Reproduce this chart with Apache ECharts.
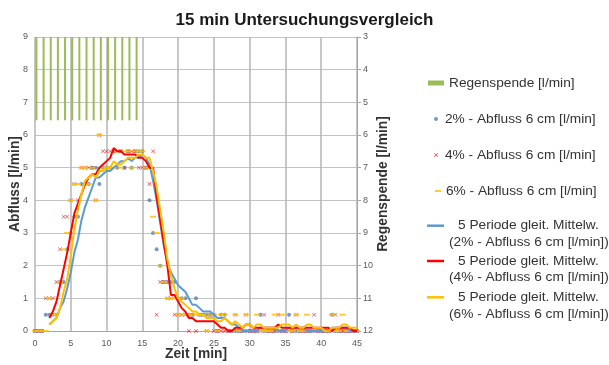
<!DOCTYPE html>
<html>
<head>
<meta charset="utf-8">
<title>15 min Untersuchungsvergleich</title>
<script src="https://cdn.jsdelivr.net/npm/echarts@6/dist/echarts.min.js"></script>
<style>
  html, body { margin: 0; padding: 0; background: #ffffff; }
  #chart { width: 609px; height: 365px; }
</style>
</head>
<body>
<div id="chart"></div>
<script>
// Messzeitpunkte [min], alle 30 s
const zeit = [
  0, 0.5, 1, 1.5, 2, 2.5, 3, 3.5, 4, 4.5,
  5, 5.5, 6, 6.5, 7, 7.5, 8, 8.5, 9, 9.5,
  10, 10.5, 11, 11.5, 12, 12.5, 13, 13.5, 14, 14.5,
  15, 15.5, 16, 16.5, 17, 17.5, 18, 18.5, 19, 19.5,
  20, 20.5, 21, 21.5, 22, 22.5, 23, 23.5, 24, 24.5,
  25, 25.5, 26, 26.5, 27, 27.5, 28, 28.5, 29, 29.5,
  30, 30.5, 31, 31.5, 32, 32.5, 33, 33.5, 34, 34.5,
  35, 35.5, 36, 36.5, 37, 37.5, 38, 38.5, 39, 39.5,
  40, 40.5, 41, 41.5, 42, 42.5, 43, 43.5, 44, 44.5,
  45
];

// Abfluss [l/min] bei 2 %, 4 % und 6 % Gefaelle
const abfluss2 = [
  0, 0, 0, 0.5, 0.5, 0.5, 0.5, 1.5, 1.5, 2.5,
  3, 3.5, 3.5, 4.5, 4.5, 4.5, 5, 5, 4.5, 5,
  5, 5, 5.5, 5, 5.5, 5, 5.5, 5, 5.5, 5.5,
  5.5, 5, 4, 3, 2.5, 2, 1.5, 1.5, 1.5, 1.5,
  1, 1, 1, 0.5, 0.5, 1, 0.5, 0.5, 0.5, 0.5,
  0.5, 0, 0.5, 0.5, 0, 0, 0, 0, 0, 0,
  0, 0, 0, 0.5, 0, 0, 0, 0, 0, 0,
  0, 0.5, 0, 0, 0, 0, 0, 0, 0, 0,
  0, 0, 0, 0.5, 0, 0, 0, 0, 0, 0,
  0
];
const abfluss4 = [
  0, 0, 0, 1, 1, 1, 1.5, 2.5, 3.5, 3.5,
  4, 4.5, 4, 5, 5, 5, 5, 4, 6, 5.5,
  5.5, 5.5, 5.5, 5.5, 5.5, 5, 5.5, 5.5, 5.5, 5,
  5, 5, 4.5, 5.5, 0.5, 1.5, 1.5, 1, 1, 0.5,
  0.5, 0.5, 0.5, 0, 0.5, 0, 0.5, 0.5, 0, 0.5,
  0, 0, 0, 0, 0, 0, 0.5, 0, 0, 0.5,
  0, 0, 0, 0, 0.5, 0, 0, 0, 0.5, 0,
  0, 0, 0, 0.5, 0, 0, 0, 0, 0.5, 0,
  0, 0, 0, 0, 0.5, 0, 0, 0, 0, 0,
  0
];
const abfluss6 = [
  0, 0, 0, 0, 1, 0.5, 0.5, 1.5, 2.5, 3,
  4, 4.5, 4.5, 5, 5, 4.5, 5, 4, 6, 5,
  5, 5, 5, 5.5, 5, 5.5, 5.5, 5, 5.5, 5.5,
  5.5, 5, 5, 3.5, 3, 2, 1.5, 1, 1, 1,
  0.5, 1, 0.5, 0.5, 0.5, 0.5, 0.5, 0.5, 0, 0.5,
  0.5, 0, 0.5, 0.5, 0, 0, 0.5, 0, 0, 0.5,
  0, 0, 0.5, 0, 0, 0, 0, 0.5, 0, 0.5,
  0, 0, 0, 0.5, 0, 0, 0.5, 0, 0, 0,
  0, 0, 0, 0.5, 0, 0, 0.5, 0, 0, 0,
  0
];

// Gleitender Mittelwert ueber 5 Perioden, ab t = 2 min
const mittelZeit = zeit.slice(4);
const mittel2 = [
  0.2, 0.3, 0.4, 0.7, 0.9, 1.3,
  1.8, 2.4, 2.8, 3.4, 3.8, 4.1, 4.4, 4.7, 4.7, 4.8,
  4.9, 4.9, 5.0, 5.1, 5.2, 5.2, 5.3, 5.2, 5.3, 5.3,
  5.4, 5.3, 5.1, 4.6, 4.0, 3.3, 2.6, 2.1, 1.8, 1.6,
  1.4, 1.3, 1.2, 1.0, 0.8, 0.8, 0.7, 0.6, 0.6, 0.6,
  0.5, 0.4, 0.4, 0.4, 0.3, 0.2, 0.2, 0.1, 0, 0,
  0, 0, 0, 0.1, 0.1, 0.1, 0.1, 0.1, 0, 0,
  0, 0.1, 0.1, 0.1, 0.1, 0.1, 0, 0, 0, 0,
  0, 0, 0, 0.1, 0.1, 0.1, 0.1, 0.1, 0, 0,
  0
];
const mittel4 = [
  0.4, 0.6, 0.9, 1.4, 1.9, 2.4,
  3.0, 3.6, 3.9, 4.2, 4.5, 4.7, 4.8, 4.8, 5.0, 5.1,
  5.2, 5.3, 5.6, 5.5, 5.5, 5.4, 5.4, 5.4, 5.4, 5.3,
  5.3, 5.2, 5.0, 5.0, 4.1, 3.4, 2.7, 2.0, 1.1, 1.1,
  0.9, 0.7, 0.6, 0.4, 0.4, 0.3, 0.3, 0.3, 0.3, 0.3,
  0.3, 0.2, 0.1, 0.1, 0, 0, 0.1, 0.1, 0.1, 0.2,
  0.2, 0.1, 0.1, 0.1, 0.1, 0.1, 0.1, 0.1, 0.2, 0.1,
  0.1, 0.1, 0.1, 0.1, 0.1, 0.1, 0.1, 0.1, 0.1, 0.1,
  0.1, 0.1, 0.1, 0, 0.1, 0.1, 0.1, 0.1, 0.1, 0,
  0
];
const mittel6 = [
  0.2, 0.3, 0.4, 0.7, 1.2, 1.6,
  2.3, 3.1, 3.7, 4.2, 4.6, 4.7, 4.8, 4.7, 4.9, 4.9,
  5.0, 5.0, 5.2, 5.1, 5.1, 5.2, 5.3, 5.3, 5.3, 5.4,
  5.4, 5.3, 5.3, 4.9, 4.4, 3.7, 3.0, 2.2, 1.7, 1.3,
  1.0, 0.9, 0.8, 0.7, 0.6, 0.6, 0.5, 0.5, 0.4, 0.4,
  0.4, 0.3, 0.3, 0.4, 0.3, 0.2, 0.3, 0.2, 0.1, 0.2,
  0.2, 0.1, 0.2, 0.2, 0.1, 0.1, 0.1, 0.1, 0.1, 0.2,
  0.2, 0.2, 0.1, 0.2, 0.1, 0.1, 0.2, 0.2, 0.1, 0.1,
  0.1, 0, 0, 0.1, 0.1, 0.1, 0.2, 0.2, 0.1, 0.1,
  0.1
];

// Regenspende [l/min], je Minute ein Balken
const regenZeit = [0.2, 1.2, 2.2, 3.2, 4.2, 5.2, 6.2, 7.2, 8.2, 9.2, 10.2, 11.2, 12.2, 13.2, 14.2];
const regenspende = [5.55, 5.55, 5.55, 5.55, 5.55, 5.55, 5.55, 5.55, 5.55, 5.55, 5.55, 5.55, 5.55, 5.55, 5.55];

// Achsenbereiche
const zeitTicks = [0, 5, 10, 15, 20, 25, 30, 35, 40, 45];
const abflussTicks = [0, 1, 2, 3, 4, 5, 6, 7, 8, 9];
const regenTicks = [3, 4, 5, 6, 7, 8, 9, 10, 11, 12];

const FONT = '"Liberation Sans", Arial, sans-serif';
const TEXT = '#333333';
const LABEL = '#595959';

const N_REGEN = 'Regenspende [l/min]';
const N_2 = '2% - Abfluss 6 cm [l/min]';
const N_4 = '4% - Abfluss 6 cm [l/min]';
const N_6 = '6% - Abfluss 6 cm [l/min]';
const N_M2 = '5 Periode gleit. Mittelw. (2% - Abfluss 6 cm [l/min])';
const N_M4 = '5 Periode gleit. Mittelw. (4% - Abfluss 6 cm [l/min])';
const N_M6 = '5 Periode gleit. Mittelw. (6% - Abfluss 6 cm [l/min])';

const C_GREEN = '#9BBB59';
const C_BLUE_PT = '#4F81BD';
const C_BLUE = '#5B9BD5';
const C_RED = '#FF0000';
const C_YELLOW = '#FFC000';

const X_MARK = 'path://M0,1L1,0L5,4L9,0L10,1L6,5L10,9L9,10L5,6L1,10L0,9L4,5Z';

const pairs = (xs, ys) => xs.map((x, i) => [x, ys[i]]);

const singleText = { fontFamily: FONT, fontSize: 13.7, color: TEXT, lineHeight: 16 };
function simpleLegend(name, icon, left, top, w, h) {
  return {
    orient: 'vertical', left: left, top: top, padding: 0,
    itemWidth: w, itemHeight: h, selectedMode: false,
    data: [{ name: name, icon: icon }],
    textStyle: singleText
  };
}
function meanLegend(name, top) {
  return {
    orient: 'vertical', left: 427, top: top, padding: 0,
    itemWidth: 17, itemHeight: 2.5, selectedMode: false,
    data: [{ name: name, icon: 'rect' }],
    formatter: function (n) {
      const k = n.indexOf(' (');
      return '{a|' + n.slice(0, k) + '}\n{b|' + n.slice(k + 1) + '}';
    },
    textStyle: {
      fontFamily: FONT, fontSize: 13.7, color: TEXT, lineHeight: 16.6,
      padding: [16.6, 0, 0, 0],
      rich: {
        a: { fontFamily: FONT, fontSize: 13.7, color: TEXT, lineHeight: 16.6, padding: [0, 0, 0, 9] },
        b: { fontFamily: FONT, fontSize: 13.7, color: TEXT, lineHeight: 16.6 }
      }
    }
  };
}

const nameStyle = { fontFamily: FONT, fontSize: 13.8, fontWeight: 'bold', color: TEXT };

const chart = echarts.init(document.getElementById('chart'), null, { renderer: 'canvas' });

chart.setOption({
  animation: false,
  backgroundColor: '#ffffff',
  title: {
    text: '15 min Untersuchungsvergleich',
    left: 'center', top: 7,
    textStyle: { fontFamily: FONT, fontSize: 17, fontWeight: 'bold', color: '#1a1a1a' }
  },
  legend: [
    simpleLegend(N_REGEN, 'rect', 428, 75, 16, 5),
    simpleLegend(N_2, 'circle', 434, 111, 8, 4),
    simpleLegend(N_4, X_MARK, 434, 147, 8, 4),
    simpleLegend(N_6, 'rect', 435, 183, 6, 2),
    meanLegend(N_M2, 200.8),
    meanLegend(N_M4, 236.1),
    meanLegend(N_M6, 272.4)
  ],
  grid: { left: 35, right: 252, top: 37, bottom: 34, containLabel: false, outerBoundsMode: 'none' },
  xAxis: {
    type: 'value', min: zeitTicks[0], max: zeitTicks[zeitTicks.length - 1], interval: zeitTicks[1] - zeitTicks[0],
    name: 'Zeit [min]', nameLocation: 'middle', nameGap: 16, nameMoveOverlap: false,
    nameTextStyle: nameStyle,
    axisLine: { show: true, lineStyle: { color: '#a6a6a6', width: 1 } },
    axisTick: { show: false },
    axisLabel: { fontFamily: FONT, fontSize: 9, color: LABEL, margin: 8 },
    splitLine: { show: true, lineStyle: { color: '#b4b4b4', width: 1.5 } }
  },
  yAxis: [
    {
      type: 'value', min: abflussTicks[0], max: abflussTicks[abflussTicks.length - 1], interval: 1,
      name: 'Abfluss [l/min]', nameLocation: 'middle', nameRotate: 90, nameGap: 13, nameMoveOverlap: false,
      nameTextStyle: nameStyle,
      axisLine: { show: false },
      axisTick: { show: false },
      axisLabel: { fontFamily: FONT, fontSize: 9, color: LABEL, margin: 7 },
      splitLine: { show: true, lineStyle: { color: '#c4c4c4', width: 1 } }
    },
    {
      type: 'value', position: 'right', inverse: true,
      min: regenTicks[0], max: regenTicks[regenTicks.length - 1], interval: 1, startValue: regenTicks[0],
      name: 'Regenspende [l/min]', nameLocation: 'middle', nameRotate: 90, nameGap: 19, nameMoveOverlap: false,
      nameTextStyle: nameStyle,
      axisLine: { show: true, lineStyle: { color: '#a6a6a6', width: 1 } },
      axisTick: { show: true, length: 4, lineStyle: { color: '#a6a6a6' } },
      axisLabel: { fontFamily: FONT, fontSize: 9, color: LABEL, margin: 6 },
      splitLine: { show: false }
    }
  ],
  series: [
    {
      name: N_REGEN, type: 'bar', xAxisIndex: 0, yAxisIndex: 1,
      barWidth: 2, clip: true,
      itemStyle: { color: C_GREEN },
      data: pairs(regenZeit, regenspende)
    },
    {
      name: N_2, type: 'scatter', yAxisIndex: 0,
      symbol: 'circle', symbolSize: 4,
      itemStyle: { color: C_BLUE_PT },
      data: pairs(zeit, abfluss2)
    },
    {
      name: N_4, type: 'scatter', yAxisIndex: 0,
      symbol: X_MARK, symbolSize: 4,
      itemStyle: { color: C_RED },
      data: pairs(zeit, abfluss4)
    },
    {
      name: N_6, type: 'scatter', yAxisIndex: 0,
      symbol: 'rect', symbolSize: [6, 2],
      itemStyle: { color: C_YELLOW },
      data: pairs(zeit, abfluss6)
    },
    {
      name: N_M2, type: 'line', yAxisIndex: 0,
      symbol: 'none', showSymbol: false,
      lineStyle: { color: C_BLUE, width: 2 }, itemStyle: { color: C_BLUE },
      data: pairs(mittelZeit, mittel2)
    },
    {
      name: N_M4, type: 'line', yAxisIndex: 0,
      symbol: 'none', showSymbol: false,
      lineStyle: { color: C_RED, width: 2 }, itemStyle: { color: C_RED },
      data: pairs(mittelZeit, mittel4)
    },
    {
      name: N_M6, type: 'line', yAxisIndex: 0,
      symbol: 'none', showSymbol: false,
      lineStyle: { color: C_YELLOW, width: 2 }, itemStyle: { color: C_YELLOW },
      data: pairs(mittelZeit, mittel6)
    }
  ]
});
</script>
</body>
</html>
